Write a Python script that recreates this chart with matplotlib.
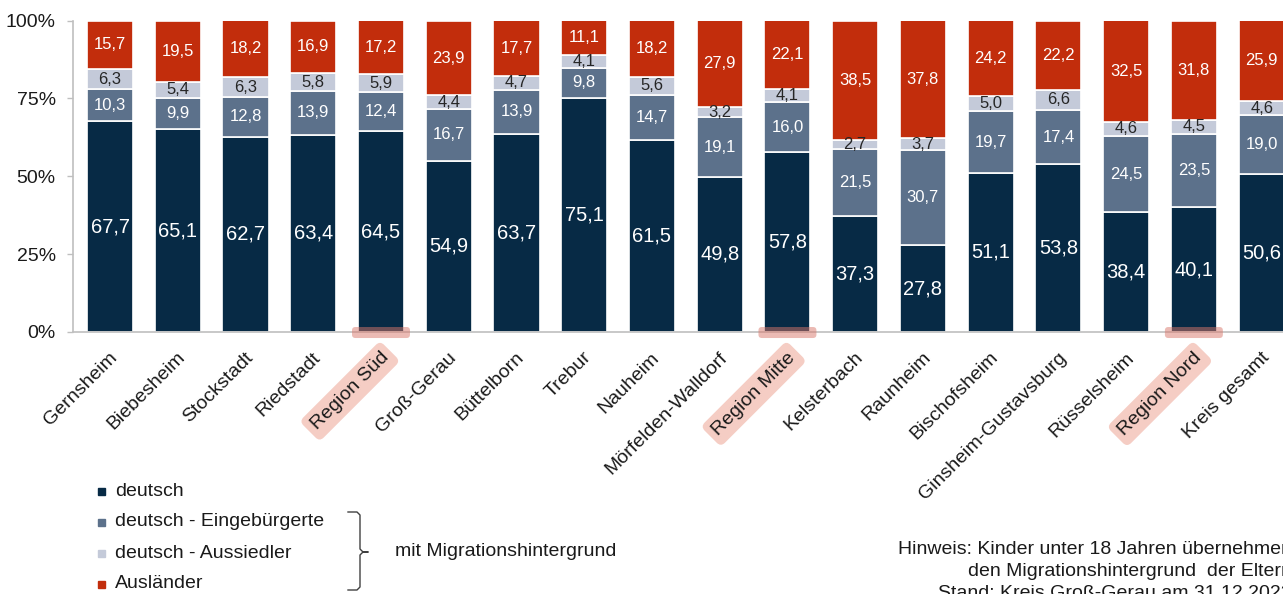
import matplotlib.pyplot as plt
import matplotlib.transforms as mtransforms
from matplotlib.patches import Rectangle, FancyBboxPatch
from matplotlib.lines import Line2D

plt.rcParams['font.family'] = ['Liberation Sans', 'DejaVu Sans']

# Daten (Anteile in %)
orte = ['Gernsheim', 'Biebesheim', 'Stockstadt', 'Riedstadt', 'Region Süd',
        'Groß-Gerau', 'Büttelborn', 'Trebur', 'Nauheim', 'Mörfelden-Walldorf',
        'Region Mitte', 'Kelsterbach', 'Raunheim', 'Bischofsheim',
        'Ginsheim-Gustavsburg', 'Rüsselsheim', 'Region Nord', 'Kreis gesamt']
deutsch = [67.7, 65.1, 62.7, 63.4, 64.5, 54.9, 63.7, 75.1, 61.5, 49.8,
           57.8, 37.3, 27.8, 51.1, 53.8, 38.4, 40.1, 50.6]
eingebuergerte = [10.3, 9.9, 12.8, 13.9, 12.4, 16.7, 13.9, 9.8, 14.7, 19.1,
                  16.0, 21.5, 30.7, 19.7, 17.4, 24.5, 23.5, 19.0]
aussiedler = [6.3, 5.4, 6.3, 5.8, 5.9, 4.4, 4.7, 4.1, 5.6, 3.2,
              4.1, 2.7, 3.7, 5.0, 6.6, 4.6, 4.5, 4.6]
auslaender = [15.7, 19.5, 18.2, 16.9, 17.2, 23.9, 17.7, 11.1, 18.2, 27.9,
              22.1, 38.5, 37.8, 24.2, 22.2, 32.5, 31.8, 25.9]
regionen = ['Region Süd', 'Region Mitte', 'Region Nord']

serien = [
    ('deutsch', deutsch, '#072a45', 'white', 14.5),
    ('deutsch - Eingebürgerte', eingebuergerte, '#5c718b', 'white', 12),
    ('deutsch - Aussiedler', aussiedler, '#c4cad9', '#262626', 12),
    ('Ausländer', auslaender, '#c22d0c', 'white', 12),
]

W, H = 1283, 594
fig = plt.figure(figsize=(W / 100, H / 100), dpi=100)


def fx(px):
    return px / W


def fy(py):
    return 1 - py / H


# Achse reicht rechts über den Bildrand hinaus (Original ist abgeschnitten)
ax = fig.add_axes([fx(72.5), fy(332), fx(1295.5 - 72.5), 311.5 / H])
x = list(range(len(orte)))

unten = [0.0] * len(orte)
for name, werte, farbe, tfarbe, fs in serien:
    ax.bar(x, werte, bottom=unten, width=0.68, color=farbe,
           edgecolor='white', linewidth=1.2, zorder=2)
    for i, v in enumerate(werte):
        ax.text(i, unten[i] + v / 2, f'{v:.1f}'.replace('.', ','),
                ha='center', va='center', color=tfarbe, fontsize=fs, zorder=3)
    unten = [u + v for u, v in zip(unten, werte)]

ax.set_xlim(-0.554, 17.5)
ax.set_ylim(0, 100)
ax.set_yticks([0, 25, 50, 75, 100])
ax.set_yticklabels(['0%', '25%', '50%', '75%', '100%'])
ax.tick_params(axis='y', length=4, width=1, color='#bfbfbf', pad=8,
               labelsize=14, labelcolor='#1a1a1a')
ax.set_xticks([])
for s in ['top', 'right']:
    ax.spines[s].set_visible(False)
for s in ['left', 'bottom']:
    ax.spines[s].set_color('#bfbfbf')
    ax.spines[s].set_linewidth(1.2)

# Ortsnamen, 45 Grad gedreht
versatz = mtransforms.ScaledTranslation(5 / 100, -23 / 100, fig.dpi_scale_trans)
for i, name in enumerate(orte):
    kw = {}
    if name in regionen:
        kw['bbox'] = dict(boxstyle='round,pad=0.3', fc='#f5cdc4', ec='none')
        # Markierung am Fuß des Regionsbalkens
        ax.add_patch(FancyBboxPatch((i - 0.428, -1.93), 0.856, 3.53,
                                    boxstyle='round,pad=0,rounding_size=0.05',
                                    mutation_aspect=21.8, fc='#d9776a', ec='none',
                                    alpha=0.5, clip_on=False, zorder=4))
    ax.text(i, 0, name, transform=ax.get_xaxis_transform() + versatz,
            rotation=45, ha='right', va='center', rotation_mode='anchor',
            fontsize=14, color='#1a1a1a', **kw)

# Legende
for k, (name, werte, farbe, tfarbe, fs) in enumerate(serien):
    yy = 491 + k * 31
    fig.add_artist(Rectangle((fx(98), fy(yy + 3.5)), fx(7), 7 / H,
                             transform=fig.transFigure, color=farbe))
    fig.text(fx(115), fy(yy), name, ha='left', va='center', fontsize=14,
             color='#1a1a1a')

# Klammer
bx = [348, 357, 360, 360, 363, 368, 363, 360, 360, 357, 348]
by = [512, 512, 515, 549, 552, 552, 552, 555, 587, 590, 590]
fig.add_artist(Line2D([fx(v) for v in bx], [fy(v) for v in by],
                      transform=fig.transFigure, color='#404040', lw=1))
fig.text(fx(395), fy(552), 'mit Migrationshintergrund', ha='left', va='center',
         fontsize=14, color='#1a1a1a')

# Hinweis (rechtsbündig, rechts abgeschnitten)
hinweis = ['Hinweis: Kinder unter 18 Jahren übernehmen',
           'den Migrationshintergrund  der Eltern',
           'Stand: Kreis Groß-Gerau am 31.12.2023']
for k, zeile in enumerate(hinweis):
    fig.text(fx(1292), fy(550 + k * 21.5), zeile, ha='right', va='center',
             fontsize=14, color='#1a1a1a')

fig.savefig('out.png', dpi=100)
